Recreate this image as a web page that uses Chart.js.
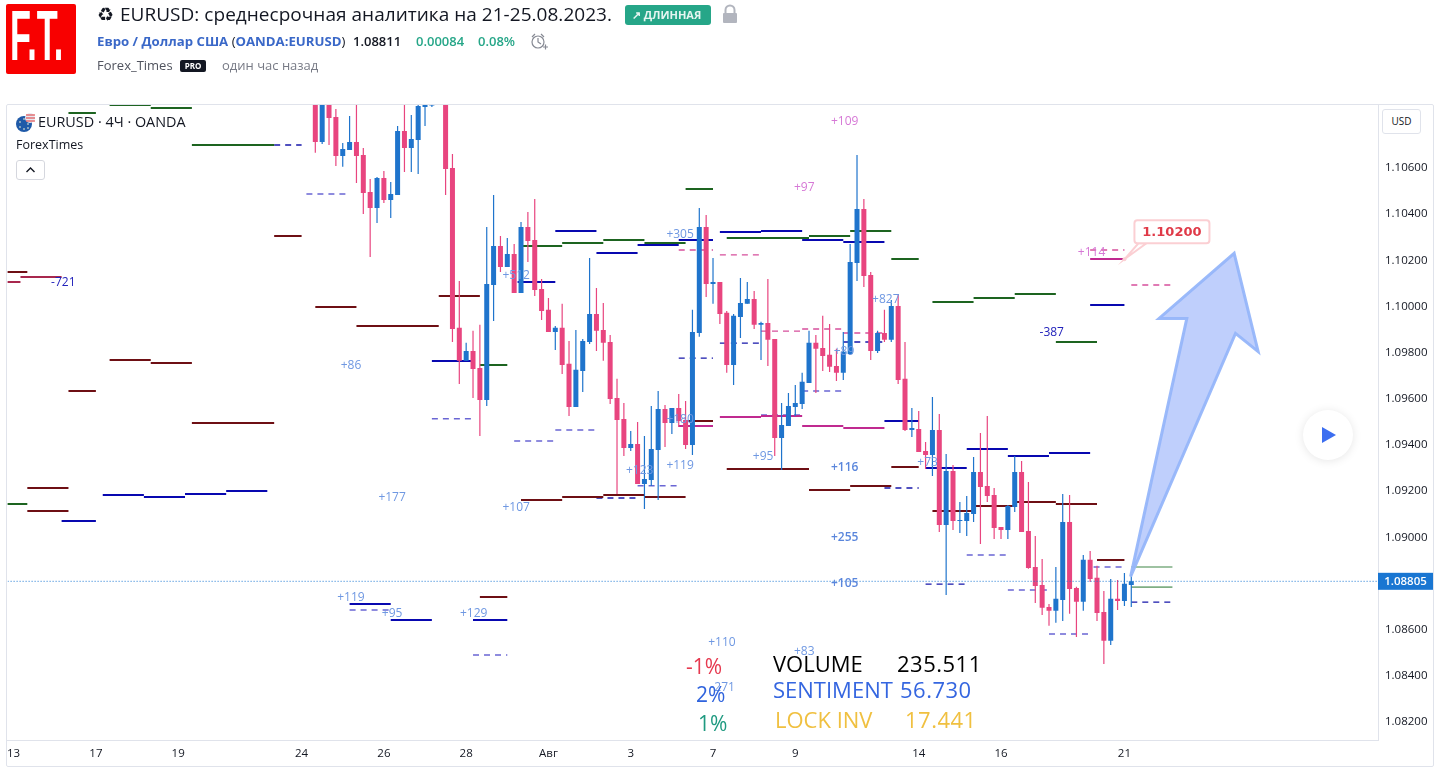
<!DOCTYPE html>
<html lang="ru"><head><meta charset="utf-8"><title>EURUSD</title>
<script src="https://cdn.jsdelivr.net/npm/chart.js@4/dist/chart.umd.min.js"></script>
<style>
html,body{margin:0;padding:0;background:#fff;width:1441px;height:772px;overflow:hidden}
#c{position:absolute;left:0;top:0;width:1441px;height:772px}
.t{position:absolute;white-space:nowrap;font-family:"Open Sans",sans-serif;line-height:1}
.box{position:absolute;box-sizing:border-box}
</style></head><body>
<canvas id="c" width="1441" height="772"></canvas>
<div class="box" style="left:6px;top:4px;width:70px;height:70px;background:#f80000;border-radius:2px;overflow:hidden">
 <div class="t" style="left:4px;top:-3px;color:#fff;font:bold 70px/1 'Liberation Sans';transform:scaleX(.49);transform-origin:0 0">F.T.</div></div>
<div class="t" style="left:97px;top:5px;font-size:19px;color:#131722;font-family:'DejaVu Sans'">♻</div>
<div class="t" style="left:120px;top:5px;font-size:19px;color:#131722;letter-spacing:.03px">EURUSD: среднесрочная аналитика на 21-25.08.2023.</div>
<div class="box" style="left:625px;top:5px;width:86px;height:20px;background:#26a688;border-radius:3px"></div>
<div class="t" style="left:632px;top:9px;font-size:11px;font-weight:700;color:#e6f5f1">↗ ДЛИННАЯ</div>
<svg class="box" style="left:722px;top:4px" width="16" height="20"><path d="M3.5 9V6a4.5 4.5 0 0 1 9 0v3" fill="none" stroke="#b2b5be" stroke-width="2"/><rect x="1" y="9" width="14" height="10" rx="1" fill="#b2b5be"/></svg>
<div class="t" style="left:97px;top:35px;font-size:13.2px;font-weight:700;color:#3a68c8">Евро / Доллар США <span style="font-weight:400;color:#131722">(</span>OANDA:EURUSD<span style="font-weight:400;color:#131722">)</span></div>
<div class="t" style="left:353px;top:35px;font-size:13px;font-weight:600;color:#131722">1.08811</div>
<div class="t" style="left:416px;top:35px;font-size:13px;font-weight:600;color:#26a688">0.00084</div>
<div class="t" style="left:478px;top:35px;font-size:13px;font-weight:600;color:#26a688">0.08%</div>
<svg class="box" style="left:529px;top:32px" width="20" height="20" fill="none" stroke="#868993" stroke-width="1.2"><circle cx="9" cy="10" r="6"/><path d="M9 6v4l3 2M3 5l3-3M12 2l3 3M14 15h5M16.5 12.5v5"/></svg>
<div class="t" style="left:97px;top:59px;font-size:13px;color:#50535e">Forex_Times</div>
<div class="box" style="left:180px;top:60px;width:26px;height:12px;background:#131722;border-radius:2px;color:#fff;font:bold 8px 'Open Sans';text-align:center;line-height:12px">PRO</div>
<div class="t" style="left:222px;top:59px;font-size:13px;color:#787b86">один час назад</div>

<div class="box" style="left:6px;top:104px;width:1428px;height:663px;border:1px solid #e0e3eb;border-radius:2px"></div>
<svg class="box" style="left:15px;top:112px" width="21" height="21"><circle cx="9" cy="12" r="8" fill="#1f5aa8"/><circle cx="15" cy="6" r="5" fill="#e8e8f0"/><path d="M11 3h9M11 6h9M11 9h9" stroke="#d33" stroke-width="1.2"/><g fill="#ffd"><circle cx="9" cy="7" r=".8"/><circle cx="5" cy="10" r=".8"/><circle cx="13" cy="12" r=".8"/><circle cx="5" cy="15" r=".8"/><circle cx="9" cy="17" r=".8"/><circle cx="13" cy="16" r=".8"/></g></svg>
<div class="t" style="left:38px;top:115px;font-size:14.4px;color:#131722">EURUSD · 4Ч · OANDA</div>
<div class="t" style="left:16px;top:139px;font-size:12.5px;color:#131722">ForexTimes</div>
<div class="box" style="left:16px;top:160px;width:29px;height:20px;border:1px solid #d5d7de;border-radius:3px;background:#fff"></div>
<svg class="box" style="left:25px;top:166px" width="11" height="8"><path d="M1.5 6L5.5 2L9.5 6" fill="none" stroke="#131722" stroke-width="1.4"/></svg>
<div class="box" style="left:1382px;top:109px;width:39px;height:25px;border:1px solid #e0e3eb;border-radius:3px;background:#fff;font:10px/23px 'Open Sans';text-align:center;color:#131722">USD</div>
<div class="box" style="left:1303px;top:410px;width:50px;height:50px;border-radius:25px;background:#fff;box-shadow:0 1px 10px rgba(0,0,0,.1)"></div>
<svg class="box" style="left:1321px;top:426px" width="16" height="18"><path d="M1 1L15 9L1 17Z" fill="#3c6ef0"/></svg>

<div class="t" style="left:686px;top:656px;font-size:21px;color:#e6394f">-1%</div>
<div class="t" style="left:696px;top:684px;font-size:21px;color:#2f63dd">2%</div>
<div class="t" style="left:698px;top:713px;font-size:21px;color:#1f9a80">1%</div>
<div class="t" style="left:773px;top:652px;font-size:22px;color:#000">VOLUME</div>
<div class="t" style="left:897px;top:652px;font-size:22px;color:#000;letter-spacing:.5px">235.511</div>
<div class="t" style="left:773px;top:678px;font-size:22px;font-weight:500;color:#3566e0">SENTIMENT</div>
<div class="t" style="left:900px;top:678px;font-size:22px;font-weight:500;color:#3566e0;letter-spacing:.5px">56.730</div>
<div class="t" style="left:775px;top:708px;font-size:22px;font-weight:500;color:#f0c040">LOCK INV</div>
<div class="t" style="left:905px;top:708px;font-size:22px;font-weight:500;color:#f0c040;letter-spacing:.5px">17.441</div>

<script>
// ---------- candles: bar 44 onward, 4-hour bars ----------
const firstBar = 44;
const opens = [
1.1092,1.10708,1.1095,1.10817,1.10648,1.10674,1.10708,1.10652,1.10492,1.10422,
1.10552,1.10457,1.10479,1.10756,1.10682,1.10717,1.10860,1.10866,1.1090,1.1100,
1.10596,1.09903,1.09760,1.09803,1.09729,1.09591,1.10089,1.10258,1.10167,1.10223,
1.10054,1.10340,1.10284,1.10071,1.09981,1.09885,1.09903,1.09747,1.09560,1.09716,
1.09842,1.09963,1.09894,1.09842,1.09599,1.09508,1.09383,1.09400,1.09227,1.09244,
1.09374,1.09552,1.09491,1.09556,1.09504,1.09396,1.09881,1.10340,1.10093,1.10102,
1.09968,1.09742,1.09950,1.10007,1.10028,1.09916,1.09924,1.09855,1.09426,1.09478,
1.09560,1.09573,1.09664,1.09838,1.09816,1.09786,1.09738,1.09708,1.09790,1.10184,
1.10418,1.10132,1.09803,1.09881,1.09851,1.09998,1.09682,1.09461,1.09465,1.09370,
1.09352,1.09461,1.09049,1.09283,1.09066,1.09066,1.09097,1.09279,1.09218,1.09179,
1.09040,1.09027,1.09127,1.09279,1.09023,1.08867,1.08789,1.08694,1.08677,1.08724,
1.09062,1.08776,1.08716,1.08898,1.08820,1.08672,1.08547,1.08729,1.08720,1.08789];
const highs = [
1.1100,1.1103,1.1100,1.10851,1.10704,1.10821,1.1090,1.10682,1.10548,1.10557,
1.10583,1.10535,1.10778,1.1090,1.10825,1.1090,1.1090,1.1090,1.1107,1.1105,
1.10656,1.10106,1.09838,1.09890,1.09916,1.10340,1.10479,1.10301,1.10292,1.10266,
1.10362,1.10405,1.10461,1.10115,1.10032,1.09911,1.10007,1.09846,1.09894,1.09855,
1.10206,1.10076,1.10011,1.09872,1.09682,1.09578,1.09456,1.09495,1.09435,1.09565,
1.09630,1.09569,1.09556,1.09617,1.09586,1.09981,1.10422,1.10392,1.10206,1.10102,
1.09976,1.09963,1.10119,1.10102,1.10063,1.09929,1.10115,1.09855,1.09578,1.09621,
1.09656,1.09708,1.09890,1.09872,1.09955,1.09920,1.09812,1.09885,1.10266,1.10652,
1.10461,1.10145,1.09890,1.09981,1.10024,1.10050,1.09842,1.09556,1.09543,1.09409,
1.09604,1.09530,1.09357,1.09309,1.09149,1.09175,1.09344,1.09448,1.09521,1.09209,
1.09040,1.09136,1.09348,1.09326,1.09235,1.09001,1.08902,1.08707,1.08867,1.09183,
1.09179,1.08781,1.08919,1.08936,1.08872,1.08763,1.08815,1.08811,1.08841,1.08837];
const lows = [
1.10662,1.10700,1.10695,1.10604,1.10601,1.10674,1.10531,1.10396,1.10210,1.10357,
1.10444,1.10379,1.10479,1.10578,1.10578,1.10570,1.10778,1.10860,1.1090,1.10479,
1.09842,1.09660,1.09760,1.09599,1.09435,1.09565,1.09933,1.10145,1.10167,1.10054,
1.10054,1.10188,1.10041,1.09937,1.09885,1.09807,1.09703,1.09521,1.09560,1.09625,
1.09833,1.09803,1.09760,1.09573,1.09183,1.09348,1.09370,1.09227,1.09118,1.09218,
1.09157,1.09387,1.09443,1.09474,1.09378,1.09352,1.09864,1.10037,1.10007,1.09920,
1.09708,1.09656,1.09859,1.10007,1.09898,1.09764,1.09738,1.09348,1.09287,1.09478,
1.09521,1.09552,1.09664,1.09621,1.09716,1.09712,1.09673,1.09677,1.09786,1.10106,
1.10080,1.09764,1.09794,1.09842,1.09842,1.09660,1.09456,1.09430,1.09365,1.09292,
1.09261,1.09019,1.08746,1.09027,1.09014,1.09001,1.09062,1.08967,1.09149,1.08988,
1.08988,1.08988,1.09105,1.09019,1.08859,1.08711,1.08659,1.08612,1.08625,1.08633,
1.08664,1.08564,1.08677,1.08802,1.08633,1.08447,1.08529,1.08681,1.08698,1.08694];
const closes = [
1.10708,1.1100,1.10812,1.10648,1.10678,1.10708,1.10648,1.10487,1.10422,1.10552,
1.10457,1.10483,1.10756,1.10682,1.10721,1.10864,1.10869,1.10880,1.1103,1.10591,
1.09898,1.09760,1.09803,1.09725,1.09591,1.10093,1.10258,1.10167,1.10223,1.10054,
1.10340,1.10279,1.10067,1.09976,1.09885,1.09903,1.09742,1.09560,1.09721,1.09846,
1.09963,1.09890,1.09838,1.09595,1.09504,1.09383,1.09400,1.09227,1.09248,1.09378,
1.09552,1.09491,1.09556,1.09500,1.09396,1.09885,1.10340,1.10093,1.10102,1.09963,
1.09742,1.09955,1.10011,1.10028,1.09916,1.09924,1.09851,1.09426,1.09482,1.09565,
1.09578,1.09669,1.09838,1.09812,1.09781,1.09734,1.09708,1.09799,1.10188,1.10418,
1.10128,1.09803,1.09881,1.09851,1.09998,1.09677,1.09461,1.09469,1.09365,1.09352,
1.09461,1.09049,1.09283,1.09066,1.09071,1.09101,1.09279,1.09214,1.09175,1.09036,
1.09027,1.09131,1.09279,1.09019,1.08863,1.08785,1.08690,1.08677,1.08729,1.09062,
1.08772,1.08716,1.08898,1.08815,1.08668,1.08547,1.08729,1.08720,1.08794,1.08805];

// ---------- axes ----------
const priceTicks = [1.082,1.084,1.086,1.088,1.090,1.092,1.094,1.096,1.098,1.100,1.102,1.104,1.106];
const dayTickBars = [0,12,24,42,54,66,78,90,102,114,132,144,162];
const dayTickLabels = ['13','17','19','24','26','28','Авг','3','7','9','14','16','21'];
const barMin = -0.875, barMax = 198.98;
const priceMin = 1.081175, priceMax = 1.108685;
const lastPrice = 1.08805;

// ---------- horizontal levels: [from bar, to bar, price] ----------
const darkRedLevels = [[-1,2,1.10145],[2,8,1.09209],[2,8,1.09110],[8,12,1.09629],[14,20,1.09764],[20,26,1.09751],[26,38,1.09491],[38,42,1.10301],[44,50,1.09993],[50,62,1.09911],[62,68,1.10041],[68,72,1.08737],[74,80,1.09157],[80,86,1.09170],[86,92,1.09179],[92,98,1.09170],[98,102,1.09500],[104,116,1.09292],[116,122,1.09201],[122,128,1.09218],[128,132,1.09300],[134,140,1.09110],[140,146,1.09131],[146,152,1.09149],[152,158,1.09140],[158,162,1.08897]];
const blueLevels = [[7,12,1.09066],[13,19,1.09179],[19,25,1.09170],[25,31,1.09183],[31,37,1.09196],[49,55,1.08707],[55,61,1.08637],[61,67,1.09759],[67,72,1.08637],[73.5,79,1.10102],[79,85,1.10323],[85,91,1.10227],[91,97,1.10262],[97,102,1.10284],[103,109,1.10318],[109,115,1.10323],[115,121,1.10284],[121,127,1.10275],[127,132,1.09500],[133,139,1.09296],[139,145,1.09378],[145,151,1.09348],[151,157,1.09361],[157,162,1.10002]];
const greenLevels = [[-1,2,1.09140],[8,12,1.10834],[14,20,1.10868],[20,26,1.10855],[26,38,1.10695],[68,72,1.09742],[74,80,1.10258],[80,86,1.10271],[86,92,1.10284],[92,98,1.10271],[98,102,1.10505],[104,116,1.10292],[116,122,1.10301],[122,128,1.10323],[128,132,1.10201],[134,140,1.10015],[140,146,1.10032],[146,152,1.10050],[152,158,1.09842]];
const paleGreenLevels = [[163,169,1.08867],[163,169,1.08780]];
const magentaLevels = [[97,102,1.09478],[103,109,1.09517],[109,115,1.09521],[115,121,1.09478],[121,127,1.09469],[157,162,1.10201]];
const crimsonLevels = [[-1,1,1.10102],[1,7,1.10123]];
const navyDashLevels = [[38,42,1.10695],[85,91,1.09166],[97,102,1.09772],[103,109,1.09837],[121,127,1.09842],[127,132,1.09209],[133,139,1.08793],[163,169,1.08715]];
const violetDashLevels = [[42.7,48.5,1.10483],[49,55,1.08681],[61,67,1.09509],[67,72,1.08486],[73,79,1.09413],[79,85,1.09461],[91,97,1.09219],[109,115,1.09525],[115,121,1.09629],[139,145,1.08919],[145,151,1.08767],[151,157,1.08577],[157.5,162,1.08867]];
const pinkDashLevels = [[97,102,1.10240],[103,109,1.10219],[109,115,1.09889],[115,121,1.09898],[121,127,1.09881],[157,162,1.10240],[163,169,1.10089]];

// ---------- arrow drawing anchors ----------
const arrowBars = [162.9,171.1,167.05,178,181.5,178.2,162.9];
const arrowPrices = [1.08825,1.09944,1.09944,1.10226,1.0980,1.09879,1.08825];

// ---------- text notes ----------
const noteTexts = ['-721','+86','+177','+119','+95','+129','+107','+512','+123','+119','+305','+95','+97','+109','+116','+255','+105','+827','+89','+180','+73','+114','-387','+110','+83','-271'];
const noteBars = [7.14,49.1,55.1,49.1,55.1,67,73.2,73.2,91.2,97.1,97.1,109.2,115.2,121.1,121.1,121.1,121.1,127.1,121,97.1,133.2,157.1,151.3,103.2,115.2,103.3];
const notePrices = [1.10102,1.09742,1.0917,1.08737,1.08668,1.08668,1.09127,1.10132,1.09287,1.09309,1.1031,1.09348,1.10513,1.10803,1.093,1.08997,1.08798,1.10032,1.09803,1.09512,1.09322,1.10232,1.09889,1.08542,1.08507,1.08347];
const noteKinds = ['n','b','b','b','b','b','b','b','b','b','b','b','p','p','B','B','B','b','b','b','b','p','n','b','b','b'];
const noteColors = {n:'#2222bb',b:'#6f98e2',B:'#5a86dc',p:'#d678d6'};
const targetPrice = 1.10200, targetBar = 162;

const UP = '#1f74cc', DOWN = '#e8457f';
const candleColor = ctx => { const i = ctx.dataIndex; return closes[i] >= opens[i] ? UP : DOWN; };

function levelPoints(levels){
  const pts = [];
  levels.forEach(([a,b,p]) => { pts.push({x:a,y:p},{x:b,y:p},{x:b,y:null}); });
  return pts;
}
function levelSet(levels,color,width,dash){
  return {type:'line',data:levelPoints(levels),borderColor:color,borderWidth:width,borderDash:dash||[],
          pointRadius:0,tension:0,spanGaps:false,order:3,xAxisID:'x',yAxisID:'y'};
}

const notesPlugin = {
  id:'notes',
  afterDatasetsDraw(chart){
    const {ctx,scales:{x,y},chartArea:a} = chart;
    ctx.save();
    ctx.beginPath();ctx.rect(a.left,a.top,a.right-a.left,a.bottom-a.top);ctx.clip();
    ctx.textAlign='center';ctx.textBaseline='middle';
    noteTexts.forEach((t,i)=>{
      const k=noteKinds[i];
      ctx.font=(k==='B'?'600 ':'')+'12px "Open Sans"';
      ctx.fillStyle=noteColors[k];
      ctx.fillText(t,x.getPixelForValue(noteBars[i])+.7,y.getPixelForValue(notePrices[i])+1);
    });
    // callout for the target price
    const px=x.getPixelForValue(targetBar), py=y.getPixelForValue(targetPrice);
    const bx=px+10,by=py-39,bw=75,bh=23;
    ctx.strokeStyle='#fbcfd3';ctx.fillStyle='#fff';ctx.lineWidth=2;
    ctx.beginPath();ctx.moveTo(px,py);ctx.lineTo(bx+4,by+bh);ctx.lineTo(bx+12,by+bh);ctx.closePath();ctx.fill();ctx.stroke();
    ctx.beginPath();ctx.roundRect(bx,by,bw,bh,3);ctx.fill();ctx.stroke();
    ctx.beginPath();ctx.arc(px,py,2,0,7);ctx.fillStyle='#fbcfd3';ctx.fill();
    ctx.fillStyle='#e03a48';ctx.font='bold 13px "DejaVu Sans"';
    ctx.fillText(targetPrice.toFixed(5),bx+bw/2,by+bh/2+.5);
    ctx.restore();
    // last price tag on the price axis
    const ty=y.getPixelForValue(lastPrice);
    ctx.save();
    ctx.fillStyle='#1976d2';ctx.fillRect(a.right,ty-8.5,55,17);
    ctx.fillStyle='#fff';ctx.font='600 11.5px "Open Sans"';ctx.textAlign='center';ctx.textBaseline='middle';
    ctx.fillText(lastPrice.toFixed(5),a.right+27.5,ty+.5);
    ctx.restore();
  }
};

new Chart(document.getElementById('c'),{
  type:'bar',
  data:{datasets:[
    {label:'arrow',type:'line',data:arrowBars.map((b,i)=>({x:b,y:arrowPrices[i]})),borderColor:'rgba(150,182,250,.95)',borderWidth:3,
     backgroundColor:'rgba(60,110,245,.33)',fill:'shape',pointRadius:0,tension:0,order:-1},
    {label:'body',data:opens.map((o,i)=>({x:firstBar+i,y:[o,closes[i]]})),backgroundColor:candleColor,barThickness:5,inflateAmount:0,grouped:false,order:1},
    {label:'wick',data:lows.map((l,i)=>({x:firstBar+i,y:[l,highs[i]]})),backgroundColor:candleColor,barThickness:1.2,inflateAmount:0,grouped:false,order:2},
    {label:'last',type:'line',data:[{x:barMin,y:lastPrice},{x:barMax,y:lastPrice}],borderColor:'#1976d2',borderWidth:1,borderDash:[1,2],pointRadius:0,order:0},
    levelSet(darkRedLevels,'#6e0f14',2),
    levelSet(blueLevels,'#0808b0',2),
    levelSet(greenLevels,'#1d6420',2),
    levelSet(paleGreenLevels,'#7fae84',1.6),
    levelSet(magentaLevels,'#c02a90',2),
    levelSet(crimsonLevels,'#a8284e',2),
    levelSet(navyDashLevels,'#1616aa',1.4,[6,5]),
    levelSet(violetDashLevels,'#6a66d4',1.5,[6,5]),
    levelSet(pinkDashLevels,'#d64f9c',1.4,[6,5])
  ]},
  options:{
    responsive:false,animation:false,devicePixelRatio:1,
    layout:{padding:{left:7,top:105,right:7,bottom:6}},
    plugins:{legend:{display:false},tooltip:{enabled:false}},
    scales:{
      x:{type:'linear',offset:false,min:barMin,max:barMax,grid:{display:false,drawTicks:false},
         border:{display:true,color:'#e0e3eb'},
         afterBuildTicks:s=>{s.ticks=dayTickBars.map(v=>({value:v}));},
         afterFit:s=>{s.height=26;},
         ticks:{autoSkip:false,maxRotation:0,minRotation:0,padding:7,color:'#131722',font:{family:'Open Sans',size:11.5},
                callback:v=>dayTickLabels[dayTickBars.indexOf(v)]}},
      y:{type:'linear',position:'right',min:priceMin,max:priceMax,grid:{display:false,drawTicks:false},
         border:{display:true,color:'#e0e3eb'},
         afterBuildTicks:s=>{s.ticks=priceTicks.map(v=>({value:v}));},
         afterFit:s=>{s.width=56;},
         ticks:{padding:7,labelOffset:1,color:'#131722',font:{family:'Open Sans',size:11.5},callback:v=>v.toFixed(5)}}
    }
  },
  plugins:[notesPlugin]
});
</script>
</body></html>
